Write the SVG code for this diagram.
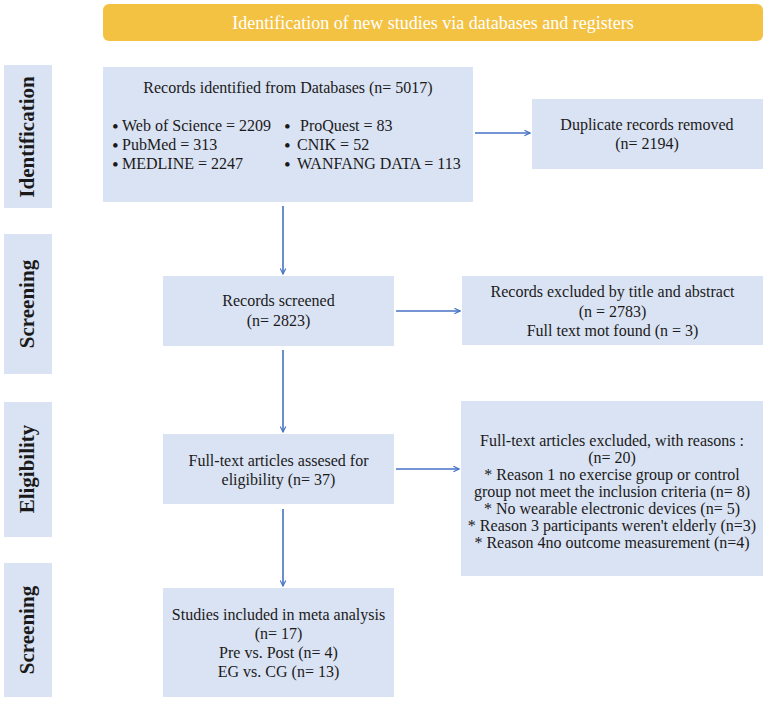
<svg xmlns="http://www.w3.org/2000/svg" width="767" height="701" viewBox="0 0 767 701">
<style>
.box{fill:#DAE3F3}
.t{font-family:"Liberation Serif","Times New Roman",serif;font-size:16px;fill:#1a1a1a;text-anchor:middle}
.s{font-family:"Liberation Serif","Times New Roman",serif;font-size:16px;fill:#1a1a1a}
.b{font-family:"Liberation Serif","Times New Roman",serif;font-size:19px;fill:#1a1a1a}
.lab{font-family:"Liberation Serif","Times New Roman",serif;font-size:21px;font-weight:bold;fill:#1a1a1a;text-anchor:middle}
.ban{font-family:"Liberation Serif","Times New Roman",serif;font-size:18px;fill:#ffffff;text-anchor:middle}
.con{stroke:#4472C4;stroke-width:1.6;fill:none;marker-end:url(#ah)}
</style>
<defs>
<marker id="ah" viewBox="0 0 10 10" refX="9" refY="5" markerWidth="7" markerHeight="7" markerUnits="userSpaceOnUse" orient="auto">
<path d="M1,1 L9,5 L1,9" fill="none" stroke="#4472C4" stroke-width="1.6"/>
</marker>
</defs>
<rect width="767" height="701" fill="#ffffff"/>

<g id="banner">
<rect x="103" y="4" width="660" height="37" rx="6" fill="#F4C243"/>
<text class="ban" x="433" y="29">Identification of new studies via databases and registers</text>
</g>

<g id="label-identification">
<rect class="box" x="4" y="65" width="48" height="143"/>
<text class="lab" transform="translate(34,137) rotate(-90)">Identification</text>
</g>
<g id="label-screening">
<rect class="box" x="4" y="234" width="48" height="140"/>
<text class="lab" transform="translate(34,304) rotate(-90)">Screening</text>
</g>
<g id="label-eligibility">
<rect class="box" x="4" y="402" width="48" height="135"/>
<text class="lab" transform="translate(34,469) rotate(-90)">Eligibility</text>
</g>
<g id="label-screening2">
<rect class="box" x="4" y="563" width="48" height="134"/>
<text class="lab" transform="translate(34,630) rotate(-90)">Screening</text>
</g>

<g id="records-identified">
<rect class="box" x="103" y="67" width="370" height="135"/>
<text class="t" x="288" y="93">Records identified from Databases (n= 5017)</text>
<text class="b" x="112" y="133">•</text><text class="s" x="122" y="131">Web of Science = 2209</text>
<text class="b" x="112" y="152">•</text><text class="s" x="122" y="150">PubMed = 313</text>
<text class="b" x="112" y="171">•</text><text class="s" x="122" y="169">MEDLINE = 2247</text>
<text class="b" x="284" y="133">•</text><text class="s" x="300" y="131">ProQuest = 83</text>
<text class="b" x="284" y="152">•</text><text class="s" x="297" y="150">CNIK = 52</text>
<text class="b" x="284" y="171">•</text><text class="s" x="297" y="169">WANFANG DATA = 113</text>
</g>

<g id="duplicates">
<rect class="box" x="532" y="99" width="231" height="70"/>
<text class="t" x="647" y="130">Duplicate records removed</text>
<text class="t" x="647" y="149">(n= 2194)</text>
</g>

<g id="records-screened">
<rect class="box" x="163" y="276" width="231" height="70"/>
<text class="t" x="278.5" y="306">Records screened</text>
<text class="t" x="278.5" y="326">(n= 2823)</text>
</g>

<g id="records-excluded">
<rect class="box" x="462" y="276" width="301" height="69"/>
<text class="t" x="612.5" y="297">Records excluded by title and abstract</text>
<text class="t" x="612.5" y="316.5">(n = 2783)</text>
<text class="t" x="612.5" y="336">Full text mot found (n = 3)</text>
</g>

<g id="eligibility">
<rect class="box" x="163" y="434" width="231" height="70"/>
<text class="t" x="278.5" y="466">Full-text articles assesed for</text>
<text class="t" x="278.5" y="485">eligibility (n= 37)</text>
</g>

<g id="fulltext-excluded">
<rect class="box" x="461" y="401" width="302" height="175"/>
<text class="t" x="612" y="446">Full-text articles excluded, with reasons :</text>
<text class="t" x="612" y="463">(n= 20)</text>
<text class="t" x="612" y="480">* Reason 1 no exercise group or control</text>
<text class="t" x="612" y="497">group not meet the inclusion criteria (n= 8)</text>
<text class="t" x="612" y="514">* No wearable electronic devices (n= 5)</text>
<text class="t" x="612" y="531">* Reason 3 participants weren't elderly (n=3)</text>
<text class="t" x="612" y="548">* Reason 4no outcome measurement (n=4)</text>
</g>

<g id="included">
<rect class="box" x="163" y="588" width="231" height="109"/>
<text class="t" x="278.5" y="620">Studies included in meta analysis</text>
<text class="t" x="278.5" y="639">(n= 17)</text>
<text class="t" x="278.5" y="658">Pre vs. Post (n= 4)</text>
<text class="t" x="278.5" y="677">EG vs. CG (n= 13)</text>
</g>

<g id="connectors">
<path class="con" d="M475,133 H530"/>
<path class="con" d="M283,206 V274"/>
<path class="con" d="M396,311 H460"/>
<path class="con" d="M283,350 V432"/>
<path class="con" d="M396,469 H459"/>
<path class="con" d="M283,509 V586"/>
</g>
</svg>
